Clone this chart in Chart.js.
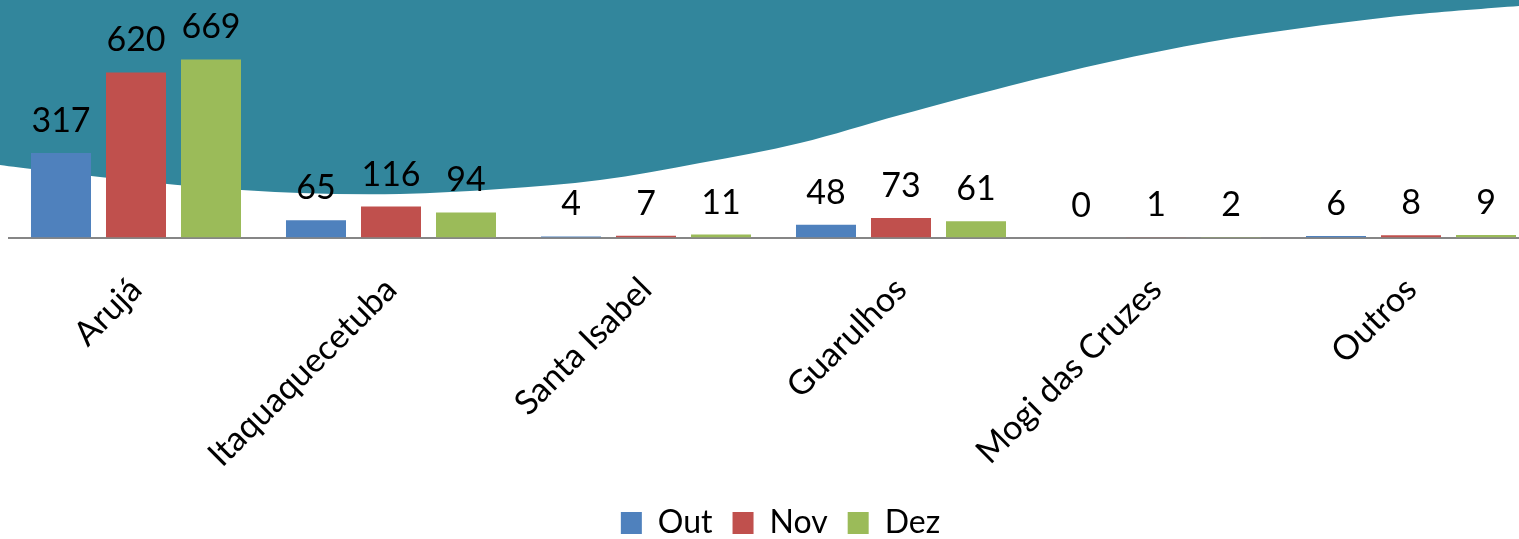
<!DOCTYPE html>
<html>
<head>
<meta charset="utf-8">
<script src="https://cdn.jsdelivr.net/npm/chart.js@4.4.0/dist/chart.umd.min.js"></script>
<style>
  html, body { margin: 0; padding: 0; background: #fff; overflow: hidden; }
  canvas { display: block; }
</style>
</head>
<body>
<canvas id="chart" width="1560" height="539"></canvas>
<script>
// data
var cidades = ['Arujá', 'Itaquaquecetuba', 'Santa Isabel', 'Guarulhos', 'Mogi das Cruzes', 'Outros'];
var outubro  = [317, 65, 4, 48, 0, 6];
var novembro = [620, 116, 7, 73, 1, 8];
var dezembro = [669, 94, 11, 61, 2, 9];

var FONT = 'Lato, "Open Sans", sans-serif';

// teal wave behind the plot
var wavePlugin = {
  id: 'wave',
  beforeDraw: function(chart) {
    var ctx = chart.ctx;
    var pts = [[-20,160],[0,165],[100,177],[200,187],[300,193],[400,194],[500,189],[600,180],
               [700,163],[800,143],[900,115],[1009,86],[1109,62],[1209,42],[1309,27],
               [1409,15],[1519,6],[1580,2]];
    ctx.save();
    ctx.fillStyle = '#32869c';
    ctx.beginPath();
    ctx.moveTo(-20, -5);
    ctx.lineTo(pts[0][0], pts[0][1]);
    for (var i = 0; i < pts.length - 1; i++) {
      var p0 = pts[i - 1] || pts[i], p1 = pts[i], p2 = pts[i + 1], p3 = pts[i + 2] || p2;
      ctx.bezierCurveTo(p1[0] + (p2[0] - p0[0]) / 6, p1[1] + (p2[1] - p0[1]) / 6,
                        p2[0] - (p3[0] - p1[0]) / 6, p2[1] - (p3[1] - p1[1]) / 6,
                        p2[0], p2[1]);
    }
    ctx.lineTo(1580, -5);
    ctx.closePath();
    ctx.fill();
    ctx.restore();
  },
  afterLayout: function(chart) {
    // legend sits a little right of the plot centre in the original
    chart.legend.left += 7;
    chart.legend.right += 7;
  }
};

// value labels above the bars
var valuePlugin = {
  id: 'values',
  afterDatasetsDraw: function(chart) {
    var ctx = chart.ctx;
    ctx.save();
    ctx.font = '34px ' + FONT;
    ctx.fillStyle = '#000';
    ctx.textAlign = 'center';
    ctx.textBaseline = 'alphabetic';
    chart.data.datasets.forEach(function(ds, di) {
      chart.getDatasetMeta(di).data.forEach(function(bar, i) {
        ctx.fillText(String(ds.data[i]), bar.x, bar.y - 21);
      });
    });
    ctx.restore();
  }
};

new Chart(document.getElementById('chart').getContext('2d'), {
  type: 'bar',
  data: {
    labels: cidades,
    datasets: [
      { label: 'Out', data: outubro,  backgroundColor: '#4f81bd' },
      { label: 'Nov', data: novembro, backgroundColor: '#c0504d' },
      { label: 'Dez', data: dezembro, backgroundColor: '#9bbb59' }
    ]
  },
  options: {
    responsive: false,
    animation: false,
    devicePixelRatio: 1,
    layout: { padding: { left: 8.5, right: 21.5, top: 0, bottom: -10 } },
    categoryPercentage: 0.8824,
    barPercentage: 0.8,
    scales: {
      x: {
        grid: { display: false, drawTicks: false },
        border: { display: true, color: '#868686', width: 2 },
        ticks: {
          minRotation: 45, maxRotation: 45, autoSkip: false,
          padding: 32, color: '#000',
          font: { family: FONT, size: 34 }
        },
        afterFit: function(s) {
          s.height = s.chart.height + 10 - 237.5 - s.chart.legend.height;
        }
      },
      y: { display: false, min: 0, max: 892 }
    },
    plugins: {
      tooltip: { enabled: false },
      legend: {
        position: 'bottom',
        labels: {
          boxWidth: 21, boxHeight: 22, padding: 20, color: '#000',
          font: { family: FONT, size: 32 }
        }
      }
    }
  },
  plugins: [wavePlugin, valuePlugin]
});
</script>
</body>
</html>
